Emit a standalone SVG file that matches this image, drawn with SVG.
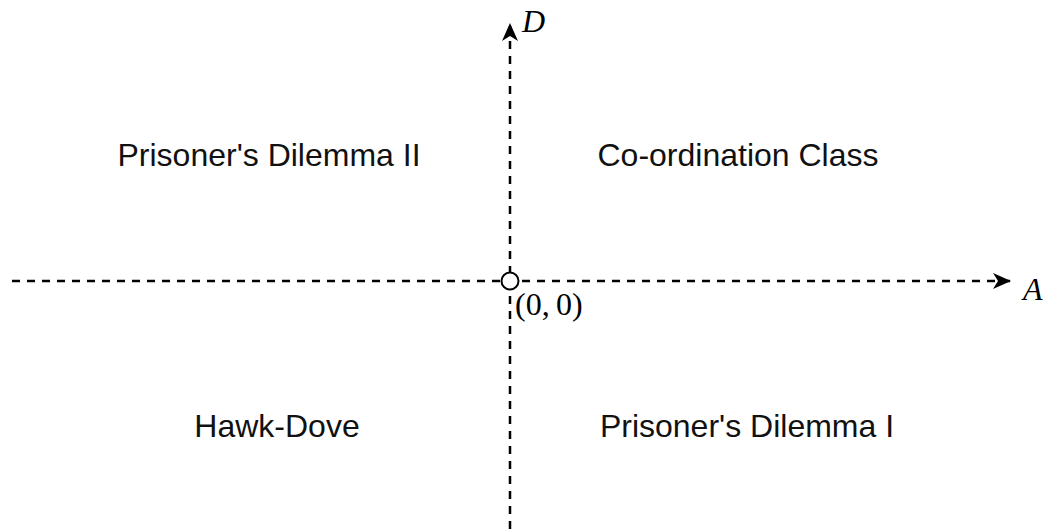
<svg xmlns="http://www.w3.org/2000/svg" width="1051" height="529" viewBox="0 0 1051 529">
<style>
.axis{stroke:#000;stroke-width:2.5;stroke-dasharray:8 7;fill:none}
.lbl{font-family:"Liberation Sans",Arial,sans-serif;font-size:32px;fill:#111;text-anchor:middle}
.math{font-family:"Liberation Serif","Times New Roman",serif;fill:#000}
</style>
<defs>
<marker id="arr" markerWidth="20" markerHeight="16" refX="18" refY="8" orient="auto" markerUnits="userSpaceOnUse">
<path d="M0,0 L18,8 L0,16 L5,8 Z" fill="#000"/>
</marker>
</defs>
<rect width="1051" height="529" fill="#fff"/>
<g id="connectors">
<line class="axis" x1="12" y1="281" x2="1011" y2="281" marker-end="url(#arr)"/>
<line class="axis" x1="510" y1="529" x2="510" y2="23" marker-end="url(#arr)"/>
</g>
<g id="origin">
<circle cx="510" cy="281" r="8.5" fill="#fff" stroke="#000" stroke-width="2"/>
<text class="math" x="515" y="315" font-size="32">(0,&#8201;0)</text>
</g>
<g id="axis-labels">
<text class="math" x="522" y="32" font-size="32" font-style="italic">D</text>
<text class="math" x="1023" y="300" font-size="32" font-style="italic">A</text>
</g>
<g id="pd2"><text class="lbl" x="269" y="166">Prisoner's Dilemma II</text></g>
<g id="coord"><text class="lbl" x="738" y="166">Co-ordination Class</text></g>
<g id="hawk"><text class="lbl" x="277" y="437">Hawk-Dove</text></g>
<g id="pd1"><text class="lbl" x="747" y="437">Prisoner's Dilemma I</text></g>
</svg>
